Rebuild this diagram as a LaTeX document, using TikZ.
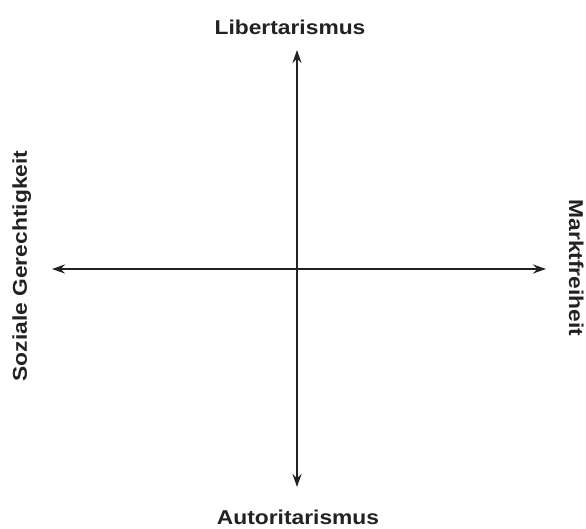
\documentclass[tikz,border=0pt]{standalone}
\usepackage{fontspec}
\setmainfont{Liberation Sans}
\usetikzlibrary{arrows.meta}
\definecolor{ink}{HTML}{222222}
\tikzset{
  axis/.style={line width=2pt, draw=ink, {Stealth[length=13pt,width=9pt]}-{Stealth[length=13pt,width=9pt]}},
  lab/.style={inner sep=0pt, text=ink, font=\fontsize{20}{24}\selectfont\bfseries}
}
\newcommand{\wide}[1]{\scalebox{1.14}[1]{#1}}
\begin{document}
\begin{tikzpicture}[x=1pt,y=-1pt]
\useasboundingbox (0,0) rectangle (586,529);
\coordinate (L) at (52,269);
\coordinate (R) at (546,269);
\coordinate (T) at (297,50);
\coordinate (B) at (297,487);
\draw[axis] (L) -- (R);
\draw[axis] (T) -- (B);
\node[lab, anchor=base] (top) at (290,35) {\wide{Libertarismus}};
\node[lab, anchor=base] (bot) at (298,524) {\wide{Autoritarismus}};
\node[lab, anchor=base, rotate=90] (left) at (27,266) {\wide{Soziale Gerechtigkeit}};
\node[lab, anchor=base, rotate=-90] (right) at (569,268) {\wide{Marktfreiheit}};
\end{tikzpicture}
\end{document}
